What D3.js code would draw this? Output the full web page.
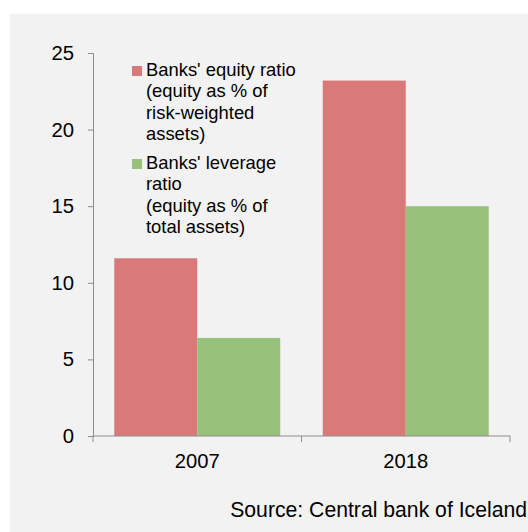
<!DOCTYPE html>
<html>
<head>
<meta charset="utf-8">
<script src="https://cdn.jsdelivr.net/npm/d3@7"></script>
<style>
  body { margin: 0; background: #fff; }
  svg { display: block; font-family: Arial, "Liberation Sans", sans-serif; }
</style>
</head>
<body>
<svg id="chart" width="528" height="532"></svg>
<script>
var years = ['2007', '2018'];
var seriesNames = ['equity', 'leverage'];
var equityRatio = [11.6, 23.2];
var leverageRatio = [6.4, 15.0];
var yTicks = [0, 5, 10, 15, 20, 25];
var legendLines = [
  ["Banks' equity ratio", '(equity as % of', 'risk-weighted', 'assets)'],
  ["Banks' leverage", 'ratio', '(equity as % of', 'total assets)']
];
var colors = ['#d9797a', '#98c17b'];

var svg = d3.select('#chart');

// grey panel
svg.append('rect')
    .attr('x', 10).attr('y', 14)
    .attr('width', 518).attr('height', 518)
    .attr('fill', '#f2f2f2');

var x0 = d3.scaleBand().domain(years).range([93, 510]).paddingInner(0).paddingOuter(0);
var x1 = d3.scaleBand().domain(seriesNames).range([0, x0.bandwidth()]).paddingInner(0).paddingOuter(0.256);
var y = d3.scaleLinear().domain([0, 25]).range([436, 53]);

var data = years.map(function(yr, i) {
  return { year: yr, values: [equityRatio[i], leverageRatio[i]] };
});

var g = svg.append('g');
g.selectAll('g.cat')
  .data(data)
  .enter().append('g')
    .attr('class', 'cat')
    .attr('transform', (d) => 'translate(' + x0(d.year) + ',0)')
  .selectAll('rect')
  .data((d) => d.values.map((v, j) => ({ key: seriesNames[j], v: v, j: j })))
  .enter().append('rect')
    .attr('x', (d) => x1(d.key))
    .attr('width', x1.bandwidth())
    .attr('y', (d) => y(d.v))
    .attr('height', (d) => y(0) - y(d.v))
    .attr('fill', (d) => colors[d.j]);

// y axis
var yAxis = svg.append('g')
    .attr('transform', 'translate(93,0)')
    .call(d3.axisLeft(y).tickValues(yTicks).tickSize(5).tickPadding(14));
yAxis.select('.domain').attr('stroke', '#8c8c8c');
yAxis.selectAll('line').attr('stroke', '#8c8c8c');
yAxis.selectAll('text').attr('font-size', 20.3).attr('fill', '#000').attr('font-family', 'Arial, "Liberation Sans", sans-serif');

// x axis (ticks between categories)
var xAxis = svg.append('g')
    .attr('transform', 'translate(0,436)');
xAxis.append('line')
    .attr('x1', 93).attr('x2', 510)
    .attr('stroke', '#8c8c8c');
xAxis.selectAll('line.tk')
  .data([93].concat(years.map((d) => x0(d) + x0.bandwidth())))
  .enter().append('line')
    .attr('class', 'tk')
    .attr('x1', (d) => d).attr('x2', (d) => d)
    .attr('y1', 0).attr('y2', 6)
    .attr('stroke', '#8c8c8c');
xAxis.selectAll('text')
  .data(years)
  .enter().append('text')
    .attr('x', (d) => x0(d) + x0.bandwidth() / 2)
    .attr('y', 32)
    .attr('text-anchor', 'middle')
    .attr('font-size', 20.2)
    .text((d) => d);

// legend
var legendTop = [76, 169];
var leg = svg.append('g');
legendLines.forEach(function(lines, i) {
  leg.append('rect')
      .attr('x', 132).attr('y', legendTop[i] - 10)
      .attr('width', 10).attr('height', 10)
      .attr('fill', colors[i]);
  leg.selectAll('text.l' + i)
    .data(lines)
    .enter().append('text')
      .attr('class', 'l' + i)
      .attr('x', 146)
      .attr('y', (d, k) => legendTop[i] + k * 21.3)
      .attr('font-size', 18.4)
      .text((d) => d);
});

// source
svg.append('text')
    .attr('x', 527).attr('y', 517)
    .attr('text-anchor', 'end')
    .attr('font-size', 21.2)
    .text('Source: Central bank of Iceland');
</script>
</body>
</html>
